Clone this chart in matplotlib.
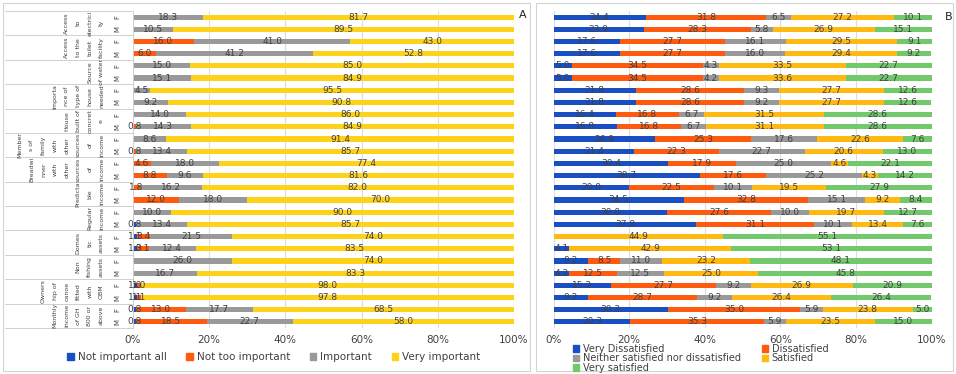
import matplotlib.pyplot as plt
import matplotlib.transforms as mtransforms
from matplotlib.patches import Rectangle, Patch
from matplotlib.lines import Line2D
import numpy as np

# ---- panel A: importance ratings (rows top to bottom, F then M per group) ----
groups_a = [
    "Access\nto\nelectrici\nty",
    "Access\nto the\ntoilet\nfacility",
    "Source\nof water",
    "Importa\nnce of\ntype of\nhouse\nneeded",
    "House\nbuilt of\nconcret\ne",
    "Member\ns of\nfamily\nwith\nother\nsources\nof\nincome",
    "Breadwi\nnner\nwith\nother\nsources\nof\nincome",
    "Predicta\nble\nincome",
    "Regular\nincome",
    "Domes\ntic\nassets",
    "Non\nfishing\nassets",
    "Owners\nhip of\ncanoe\nfitted\nwith\nOBM",
    "Monthly\nincome\nof GH\n800 or\nabove",
]
sexes = ["F", "M"]

not_important_all = [0, 0, 0, 0, 0, 0, 0, 0, 0, 0, 0, 0, 0, 0, 0, 0,
                     0, 0.8, 1.1, 1.0, 0, 0, 1.0, 1.1, 0.8, 0.8]
not_too_important = [0, 0, 16.0, 6.0, 0, 0, 0, 0, 0, 0.8, 0, 0.8, 4.6, 8.8, 1.8, 12.0,
                     0, 0, 3.4, 3.1, 0, 0, 1.0, 1.1, 13.0, 18.5]
important = [18.3, 10.5, 41.0, 41.2, 15.0, 15.1, 4.5, 9.2, 14.0, 14.3, 8.6, 13.4,
             18.0, 9.6, 16.2, 18.0, 10.0, 13.4, 21.5, 12.4, 26.0, 16.7, 0, 0, 17.7, 22.7]
very_important = [81.7, 89.5, 43.0, 52.8, 85.0, 84.9, 95.5, 90.8, 86.0, 84.9, 91.4, 85.7,
                  77.4, 81.6, 82.0, 70.0, 90.0, 85.7, 74.0, 83.5, 74.0, 83.3, 98.0, 97.8,
                  68.5, 58.0]

# ---- panel B: satisfaction ratings, same row order ----
very_dissatisfied = [24.4, 23.9, 17.6, 17.6, 5.0, 5.0, 21.8, 21.8, 16.4, 16.8, 26.9, 21.4,
                     30.4, 38.7, 20.0, 34.5, 30.0, 37.8, 0, 4.1, 9.2, 4.2, 15.3, 9.2, 30.3, 20.3]
dissatisfied = [31.8, 28.3, 27.7, 27.7, 34.5, 34.5, 28.6, 28.6, 16.8, 16.8, 25.3, 22.3,
                17.9, 17.6, 22.5, 32.8, 27.6, 31.1, 0, 0, 8.5, 12.5, 27.7, 28.7, 35.0, 35.3]
neither = [6.5, 5.8, 16.1, 16.0, 4.3, 4.2, 9.3, 9.2, 6.7, 6.7, 17.6, 22.7,
           25.0, 25.2, 10.1, 15.1, 10.0, 10.1, 0, 0, 11.0, 12.5, 9.2, 9.2, 5.9, 5.9]
satisfied = [27.2, 26.9, 29.5, 29.4, 33.5, 33.6, 27.7, 27.7, 31.5, 31.1, 22.6, 20.6,
             4.6, 4.3, 19.5, 9.2, 19.7, 13.4, 44.9, 42.9, 23.2, 25.0, 26.9, 26.4, 23.8, 23.5]
very_satisfied = [10.1, 15.1, 9.1, 9.2, 22.7, 22.7, 12.6, 12.6, 28.6, 28.6, 7.6, 13.0,
                  22.1, 14.2, 27.9, 8.4, 12.7, 7.6, 55.1, 53.1, 48.1, 45.8, 20.9, 26.4, 5.0, 15.0]

labels_a = ["Not important all", "Not too important", "Important", "Very important"]
colors_a = ["#1A4FC4", "#FF5B0E", "#999999", "#FFD21A"]
labels_b = ["Very Dissatisfied", "Dissatisfied", "Neither satisfied nor dissatisfied",
            "Satisfied", "Very satisfied"]
colors_b = ["#1A4FC4", "#FF5B0E", "#999999", "#FFB90F", "#72C96B"]

W, H = 956, 374
fig = plt.figure(figsize=(W / 100, H / 100), dpi=100)


def fx(px):
    return px / W


def fy(py):
    return 1 - py / H


TEXT = "#404040"


def stacked(ax, series, colors):
    n = len(series[0])
    y = np.arange(n)
    left = np.zeros(n)
    for vals, c in zip(series, colors):
        vals = np.asarray(vals, dtype=float)
        ax.barh(y, vals, left=left, height=0.42, color=c, zorder=2)
        for yi, (l, v) in enumerate(zip(left, vals)):
            if v > 0:
                ax.text(l + v / 2, yi, f"{v:.1f}", ha="center", va="center",
                        fontsize=6.5, color=TEXT, zorder=3)
        left += vals
    ax.set_ylim(n - 0.5, -0.5)
    ax.set_xlim(0, 100)
    ax.set_xticks(range(0, 101, 20))
    ax.set_xticklabels([f"{t}%" for t in range(0, 101, 20)], fontsize=7.5, color=TEXT)
    ax.tick_params(axis="x", length=0, pad=5)
    ax.set_yticks([])
    ax.grid(axis="x", color="#D9DDE6", lw=0.8, zorder=0)
    for s in ax.spines.values():
        s.set_visible(False)


# panel frames
for x0, x1 in [(3, 530), (536, 953)]:
    fig.patches.append(Rectangle((fx(x0), fy(371)), fx(x1) - fx(x0), fy(3) - fy(371),
                                 transform=fig.transFigure, fill=False,
                                 ec="#D4D4D4", lw=0.8))

ax_a = fig.add_axes([fx(133), fy(328), fx(514) - fx(133), fy(11) - fy(328)])
ax_b = fig.add_axes([fx(553.5), fy(328), fx(931.7) - fx(553.5), fy(11) - fy(328)])

stacked(ax_a, [not_important_all, not_too_important, important, very_important], colors_a)
stacked(ax_b, [very_dissatisfied, dissatisfied, neither, satisfied, very_satisfied], colors_b)

# category table on the left of panel A
trans = mtransforms.blended_transform_factory(fig.transFigure, ax_a.transData)
for k, name in enumerate(groups_a):
    top = 2 * k - 0.5
    ax_a.add_line(Line2D([fx(5), fx(133)], [top, top], transform=trans,
                         color="#D0D0D0", lw=0.7, clip_on=False))
    ax_a.text(fx(104), 2 * k + 0.5, name, transform=trans, rotation=90,
              ha="right", va="center", multialignment="center",
              fontsize=4.5, linespacing=2.65, color=TEXT)
    for j, s in enumerate(sexes):
        ax_a.text(fx(117), 2 * k + j, s, transform=trans, rotation=90,
                  ha="center", va="center", fontsize=5, color=TEXT)
ax_a.add_line(Line2D([fx(5), fx(133)], [25.5, 25.5], transform=trans,
                     color="#D0D0D0", lw=0.7, clip_on=False))
ax_a.add_line(Line2D([fx(133), fx(133)], [-0.5, 25.5], transform=trans,
                     color="#D0D0D0", lw=0.7, clip_on=False))

fig.text(fx(523), fy(15), "A", fontsize=8, color="#222222", ha="center", va="center")
fig.text(fx(949), fy(17), "B", fontsize=8, color="#222222", ha="center", va="center")

handles_a = [Patch(color=c, label=l) for c, l in zip(colors_a, labels_a)]
fig.legend(handles=handles_a, loc="center", bbox_to_anchor=(fx(274), fy(357)),
           ncol=4, frameon=False, fontsize=7.5, handlelength=0.6, handleheight=0.6,
           handletextpad=0.4, columnspacing=1.9, labelcolor=TEXT)

order = [0, 2, 4, 1, 3]
handles_b = [Patch(color=colors_b[i], label=labels_b[i]) for i in order]
fig.legend(handles=handles_b, loc="upper left", bbox_to_anchor=(fx(568), fy(339)),
           ncol=2, frameon=False, fontsize=7, handlelength=0.6, handleheight=0.6,
           handletextpad=0.4, columnspacing=2.2, labelspacing=-0.05,
           borderpad=0, labelcolor=TEXT)

fig.savefig("out.png", dpi=100)
